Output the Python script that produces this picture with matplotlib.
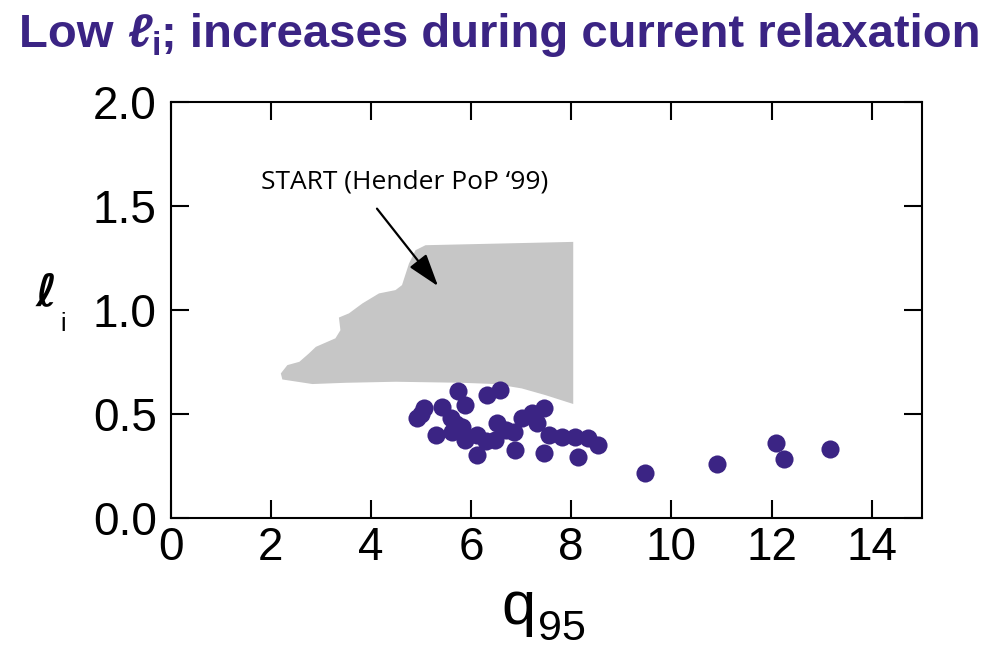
import matplotlib
matplotlib.use("Agg")
import matplotlib.pyplot as plt
from matplotlib import font_manager

# measured shots: q95 vs internal inductance
q95 = [5.74, 6.32, 6.58, 5.06, 4.92, 5.00, 5.42, 5.88, 5.29, 5.59, 5.62, 5.70, 5.82,
       5.88, 6.12, 6.12, 6.30, 6.52, 6.48, 6.70, 6.85, 6.88, 7.01, 7.21, 7.45, 7.31,
       7.55, 7.45, 7.81, 8.08, 8.14, 8.34, 8.54, 9.47, 10.91, 12.08, 12.25, 13.16]
li = [0.611, 0.589, 0.614, 0.526, 0.478, 0.500, 0.534, 0.542, 0.398, 0.478, 0.413, 0.450, 0.437,
      0.373, 0.398, 0.301, 0.370, 0.454, 0.373, 0.420, 0.413, 0.325, 0.478, 0.502, 0.526, 0.454,
      0.398, 0.310, 0.389, 0.389, 0.293, 0.382, 0.350, 0.216, 0.257, 0.358, 0.281, 0.330]

# START operating region (outline)
start_q = [5.09, 8.04, 8.04, 7.48, 7.01, 6.48, 5.82, 4.49, 3.49, 2.83, 2.23, 2.20, 2.33,
           2.57, 2.76, 2.90, 3.29, 3.39, 3.36, 3.56, 3.83, 4.16, 4.49, 4.62, 4.76, 4.89]
start_li = [1.311, 1.327, 0.547, 0.590, 0.622, 0.643, 0.649, 0.654, 0.649, 0.643, 0.665, 0.694, 0.734,
            0.750, 0.790, 0.822, 0.863, 0.902, 0.963, 0.983, 1.031, 1.079, 1.095, 1.119, 1.223, 1.287]

xticks = [0, 2, 4, 6, 8, 10, 12, 14]
yticks = [0.0, 0.5, 1.0, 1.5, 2.0]

purple = "#3b2484"
names = {f.name for f in font_manager.fontManager.ttflist}
narrow = "Liberation Sans Narrow" in names
title_font = "Liberation Sans Narrow" if narrow else "Liberation Sans"
title_size = 35 if narrow else 34

plt.rcParams["font.family"] = ["Liberation Sans", "DejaVu Sans"]

fig = plt.figure(figsize=(10.07, 6.51), dpi=100)
ax = fig.add_axes([0.1695, 0.2048, 0.7458, 0.6385])

ax.fill(start_q, start_li, color="#c6c6c6", lw=0, zorder=1)
ax.scatter(q95, li, s=170, color=purple, linewidths=0, zorder=3)

ax.annotate("", xy=(5.34, 1.114), xytext=(4.12, 1.487),
            arrowprops=dict(arrowstyle="-|>,head_length=0.4,head_width=0.13",
                            mutation_scale=50, lw=1.6, color="black",
                            shrinkA=0, shrinkB=0), zorder=4)
ax.text(4.68, 1.614, "START (Hender PoP \u201899)", fontsize=19,
        family=["Open Sans", "DejaVu Sans"], ha="center", va="center", color="black")

ax.set_xlim(0, 15)
ax.set_ylim(0, 2.0)
ax.set_xticks(xticks)
ax.set_yticks(yticks)
ax.set_yticklabels([f"{v:.1f}" for v in yticks])
ax.tick_params(direction="in", length=13, width=1.5, labelsize=33,
               top=True, right=True)
ax.tick_params(axis="x", pad=6)
ax.tick_params(axis="y", pad=10)
for s in ax.spines.values():
    s.set_linewidth(1.5)

# x label: q with a lowered 95 subscript
fig.text(0.4975, 0.042, "q", fontsize=44, va="baseline", ha="left")
fig.text(0.5340, 0.0165, "95", fontsize=31, va="baseline", ha="left")

# y label: script l with subscript i
fig.text(0.0457, 0.55, "\u2113", fontsize=32, family=["DejaVu Sans"],
         weight="bold", style="italic", ha="center", va="center")
fig.text(0.0625, 0.502, "i", fontsize=18, ha="center", va="center")

# title built from pieces so the subscript sits lower
ty = 0.928
t1 = fig.text(0.019, ty, "Low ", fontsize=title_size, weight="bold", color=purple,
              family=[title_font, "DejaVu Sans"], va="baseline")
t2 = fig.text(0, 0, "\u2113", fontsize=title_size, weight="bold", style="italic", color=purple,
              family=[title_font, "DejaVu Sans"], va="baseline")
fig.canvas.draw()
r = fig.canvas.get_renderer()
inv = fig.transFigure.inverted()
x2 = inv.transform((t1.get_window_extent(r).x1, 0))[0]
t2.set_position((x2, ty))
x3 = inv.transform((t2.get_window_extent(r).x1, 0))[0]
t3 = fig.text(x3, ty - 0.013, "i", fontsize=24, weight="bold", color=purple,
              family=[title_font, "DejaVu Sans"], va="baseline")
x4 = inv.transform((t3.get_window_extent(r).x1, 0))[0]
fig.text(x4, ty, "; increases during current relaxation", fontsize=title_size, weight="bold",
         color=purple, family=[title_font, "DejaVu Sans"], va="baseline")

fig.savefig("out.png", dpi=100)
